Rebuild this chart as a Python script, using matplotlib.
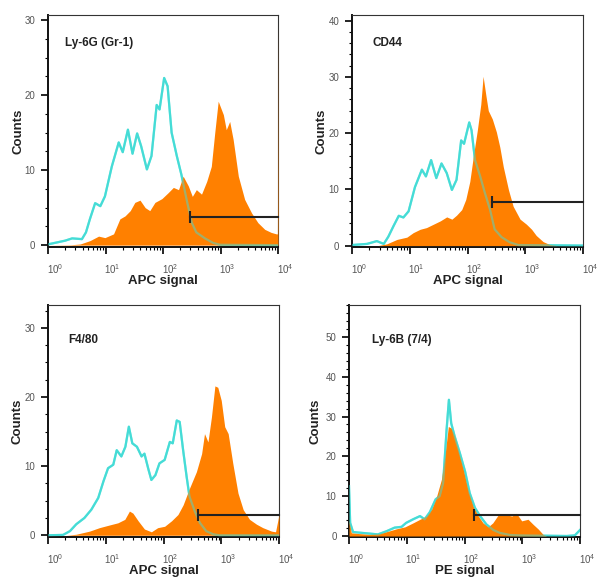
import numpy as np
import matplotlib
matplotlib.use("Agg")
import matplotlib.pyplot as plt
from matplotlib.ticker import MultipleLocator, LogLocator, NullFormatter
from matplotlib.transforms import ScaledTranslation

plt.rcParams['font.family'] = ['Liberation Sans', 'DejaVu Sans']

# --- data: positions in log10(signal), values in counts ---
# Ly-6G (Gr-1)
gr1_iso_log = [0.0, 0.30, 0.42, 0.59, 0.66, 0.73, 0.82, 0.91, 0.99, 1.11, 1.23, 1.30, 1.39,
               1.47, 1.55, 1.62, 1.72, 1.80, 1.89, 1.94, 2.02, 2.08, 2.15, 2.24, 2.32, 2.41,
               2.50, 2.58, 2.73, 2.87, 2.99, 4.0]
gr1_iso = [0.1, 0.6, 0.9, 0.8, 1.7, 3.5, 5.6, 5.2, 6.5, 10.5, 13.7, 12.4, 15.4,
           12.2, 14.9, 13.2, 10.1, 11.9, 18.7, 18.1, 22.3, 21.2, 15.0, 11.9, 9.4, 6.1,
           3.0, 1.7, 0.9, 0.3, 0.05, 0.0]
gr1_stain_log = [0.0, 0.40, 0.56, 0.73, 0.88, 0.99, 1.14, 1.25, 1.34, 1.43, 1.51, 1.60, 1.69,
                 1.77, 1.86, 1.98, 2.09, 2.18, 2.27, 2.35, 2.44, 2.51, 2.58, 2.67, 2.76, 2.84,
                 2.90, 2.96, 3.05, 3.10, 3.16, 3.22, 3.31, 3.42, 3.54, 3.65, 3.77, 3.88, 3.97,
                 3.99, 4.0]
gr1_stain = [0.0, 0.05, 0.15, 0.6, 1.2, 1.0, 1.5, 3.5, 3.9, 4.6, 5.7, 6.0, 5.0,
             4.6, 5.7, 6.2, 7.0, 7.7, 7.4, 9.2, 7.9, 6.5, 7.4, 6.8, 8.5, 10.5,
             15.0, 19.2, 17.4, 15.4, 16.5, 14.1, 9.2, 6.1, 4.3, 3.0, 2.1, 1.7, 1.5,
             1.5, 30.0]

# CD44
cd44_iso_log = [0.0, 0.26, 0.43, 0.55, 0.63, 0.72, 0.81, 0.89, 0.98, 1.09, 1.21, 1.28, 1.37,
                1.46, 1.55, 1.64, 1.73, 1.81, 1.89, 1.94, 2.03, 2.07, 2.13, 2.22, 2.30, 2.39,
                2.47, 2.59, 2.73, 2.88, 4.0]
cd44_iso = [0.1, 0.3, 0.8, 0.3, 1.6, 3.5, 5.3, 5.0, 6.1, 10.4, 13.5, 12.3, 15.2,
            12.0, 14.6, 12.9, 9.9, 11.7, 18.7, 18.1, 21.9, 20.5, 15.2, 12.3, 9.4, 6.4,
            2.9, 1.5, 0.6, 0.1, 0.0]
cd44_stain_log = [0.0, 0.45, 0.60, 0.78, 0.95, 1.06, 1.18, 1.29, 1.41, 1.53, 1.64, 1.73, 1.81,
                  1.90, 1.97, 2.04, 2.10, 2.17, 2.23, 2.27, 2.32, 2.36, 2.43, 2.50, 2.56, 2.62,
                  2.71, 2.79, 2.91, 3.02, 3.11, 3.19, 3.31, 3.42, 3.55, 4.0]
cd44_stain = [0.0, 0.0, 0.3, 1.1, 1.5, 2.3, 2.9, 3.2, 3.8, 4.4, 5.1, 4.7, 5.4,
              6.4, 8.2, 11.4, 15.8, 20.5, 25.1, 30.1, 26.6, 24.0, 22.5, 20.2, 17.5, 14.0,
              9.9, 7.0, 4.7, 3.8, 2.9, 1.8, 0.7, 0.2, 0.0, 0.0]

# F4/80
f480_iso_log = [0.0, 0.26, 0.38, 0.49, 0.63, 0.75, 0.87, 0.96, 1.04, 1.13, 1.19, 1.27, 1.34,
                1.40, 1.46, 1.54, 1.62, 1.67, 1.74, 1.79, 1.86, 1.93, 2.02, 2.11, 2.16, 2.23,
                2.28, 2.34, 2.40, 2.45, 2.54, 2.63, 2.74, 2.86, 2.97, 4.0]
f480_iso = [0.0, 0.05, 0.6, 1.6, 2.5, 3.7, 5.4, 7.8, 9.7, 10.2, 12.3, 11.4, 12.8,
            15.7, 13.3, 12.8, 11.4, 11.8, 9.5, 8.0, 8.7, 10.4, 10.9, 13.5, 13.3, 16.6,
            16.4, 12.3, 8.5, 5.6, 3.5, 1.8, 0.6, 0.15, 0.0, 0.0]
f480_stain_log = [0.0, 0.32, 0.49, 0.72, 0.89, 1.07, 1.21, 1.33, 1.41, 1.47, 1.56, 1.67, 1.79,
                  1.90, 2.02, 2.14, 2.25, 2.34, 2.45, 2.57, 2.66, 2.71, 2.77, 2.83, 2.89, 2.94,
                  3.00, 3.06, 3.12, 3.20, 3.29, 3.38, 3.49, 3.61, 3.72, 3.87, 3.94, 4.0]
f480_stain = [0.0, 0.0, 0.15, 0.6, 1.1, 1.5, 1.8, 2.3, 3.5, 3.2, 2.1, 0.9, 0.5,
              1.1, 1.3, 2.1, 3.0, 4.4, 6.8, 9.2, 11.8, 14.7, 13.5, 17.1, 21.6, 21.4,
              19.5, 15.7, 14.7, 10.4, 6.1, 3.7, 2.3, 1.6, 1.1, 0.6, 0.5, 3.0]

# Ly-6B (7/4)
ly6b_iso_log = [0.0, 0.02, 0.07, 0.21, 0.36, 0.50, 0.65, 0.79, 0.91, 0.99, 1.11, 1.23, 1.31,
                1.40, 1.50, 1.57, 1.63, 1.69, 1.73, 1.77, 1.83, 1.92, 2.01, 2.09, 2.18, 2.27,
                2.38, 2.50, 2.61, 2.79, 2.96, 3.77, 3.91, 4.0]
ly6b_iso = [12.5, 3.3, 1.0, 0.8, 0.6, 0.4, 1.2, 2.1, 2.3, 3.3, 4.2, 5.0, 4.2,
            6.0, 9.2, 10.0, 13.3, 26.7, 34.2, 28.3, 25.0, 20.8, 16.2, 10.8, 7.1, 5.0,
            2.9, 1.5, 0.8, 0.25, 0.15, 0.0, 0.15, 1.5]
ly6b_stain_log = [0.0, 0.04, 0.18, 0.36, 0.53, 0.68, 0.82, 0.97, 1.11, 1.23, 1.34, 1.43, 1.51,
                  1.60, 1.66, 1.72, 1.77, 1.83, 1.89, 1.98, 2.06, 2.15, 2.24, 2.32, 2.41, 2.49,
                  2.58, 2.70, 2.82, 2.90, 2.99, 3.10, 3.19, 3.28, 3.36, 3.42, 4.0]
ly6b_stain = [4.0, 0.8, 0.6, 0.4, 0.6, 1.2, 1.8, 2.3, 3.3, 4.2, 5.0, 6.7, 9.6,
              14.2, 20.0, 27.5, 27.1, 25.0, 21.7, 16.7, 11.7, 7.5, 5.0, 3.3, 2.3, 3.3,
              5.2, 5.4, 5.0, 5.7, 3.8, 4.2, 2.9, 1.7, 0.4, 0.0, 0.0]

titles = ["Ly-6G (Gr-1)", "CD44", "F4/80", "Ly-6B (7/4)"]
xlabels = ["APC signal", "APC signal", "APC signal", "PE signal"]
gate_start = [295, 270, 400, 145]
gate_level = [3.7, 7.8, 3.0, 5.25]
y_top = [30.7, 41.0, 33.3, 58.0]
y_major = [10, 10, 10, 10]
y_minor = [2.5, 2, 2.5, 2]

iso_logs = [gr1_iso_log, cd44_iso_log, f480_iso_log, ly6b_iso_log]
iso_vals = [gr1_iso, cd44_iso, f480_iso, ly6b_iso]
stain_logs = [gr1_stain_log, cd44_stain_log, f480_stain_log, ly6b_stain_log]
stain_vals = [gr1_stain, cd44_stain, f480_stain, ly6b_stain]

ORANGE = '#ff8000'
CYAN = '#45dcd6'

fig = plt.figure(figsize=(6.01, 5.88), dpi=100)
W, H = 601.0, 588.0
# axes boxes in pixels: left, top, right, bottom
boxes = [(48, 15, 278, 247), (352, 15, 583, 247), (48, 305, 279, 537), (349, 305, 580, 537)]
title_pos = [(0.075, 0.88), (0.09, 0.88), (0.087, 0.85), (0.10, 0.85)]
ylab_x = [-0.10, -0.104, -0.108, -0.12]

for i in range(4):
    l, t, r, b = boxes[i]
    ax = fig.add_axes([l / W, 1 - b / H, (r - l) / W, (b - t) / H])

    xi = 10 ** np.array(iso_logs[i])
    xs = 10 ** np.array(stain_logs[i])
    ax.plot(xi, iso_vals[i], color=CYAN, lw=1.6, zorder=2)
    ax.fill_between(xs, 0, stain_vals[i], color=ORANGE, lw=0, zorder=3)
    ax.plot(xi, iso_vals[i], color=CYAN, lw=1.6, alpha=0.5, zorder=4)

    # gate marker
    ax.plot([gate_start[i], 1e4], [gate_level[i], gate_level[i]], color='#222222', lw=1.5,
            zorder=5, clip_on=False)
    ax.plot([gate_start[i]], [gate_level[i]], marker='|', ms=9, mew=1.5, color='#222222', zorder=5)

    ax.set_xscale('log')
    ax.set_xlim(1, 1e4)
    ax.set_ylim(-0.25, y_top[i])

    ax.xaxis.set_major_locator(LogLocator(base=10, numticks=10))
    ax.xaxis.set_minor_locator(LogLocator(base=10, subs=np.arange(2, 10), numticks=10))
    ax.xaxis.set_minor_formatter(NullFormatter())
    ax.yaxis.set_major_locator(MultipleLocator(y_major[i]))
    ax.yaxis.set_minor_locator(MultipleLocator(y_minor[i]))

    ax.tick_params(axis='both', which='major', direction='out', length=5, width=1.2,
                   labelsize=7, labelcolor='#555555', pad=4)
    ax.tick_params(axis='both', which='minor', direction='out', length=2.5, width=0.8)
    ax.tick_params(axis='x', which='major', pad=6)
    for lab in ax.get_xticklabels():
        lab.set_transform(lab.get_transform() + ScaledTranslation(5 / 72, 0, fig.dpi_scale_trans))

    for s in ['left', 'bottom']:
        ax.spines[s].set_linewidth(1.4)
        ax.spines[s].set_color('#111111')
    for s in ['top', 'right']:
        ax.spines[s].set_linewidth(0.8)
        ax.spines[s].set_color('#333333')

    ax.set_xlabel(xlabels[i], fontsize=9.5, fontweight='bold', color='#222222')
    ax.xaxis.set_label_coords(0.5, -0.12)
    ax.set_ylabel("Counts", fontsize=9.5, fontweight='bold', color='#222222')
    ax.yaxis.set_label_coords(ylab_x[i], 0.5)

    ax.text(title_pos[i][0], title_pos[i][1], titles[i], transform=ax.transAxes,
            fontsize=8.5, fontweight='bold', color='#222222', va='center', ha='left')

fig.savefig('out.png', dpi=100)
